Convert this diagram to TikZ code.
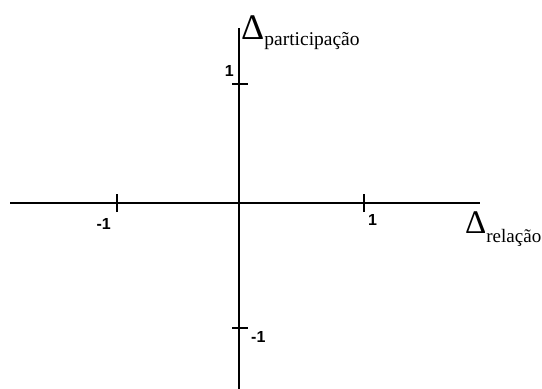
\documentclass[tikz,border=0pt]{standalone}
\usepackage{fontspec}
\setmainfont{Liberation Serif}
\newfontfamily\numfont{Liberation Sans}
\begin{document}
\begin{tikzpicture}[x=1pt,y=-1pt,
  axis/.style={line width=1.8pt},
  tick/.style={line width=1.8pt},
  num/.style={inner sep=0pt,font=\numfont\bfseries\fontsize{16}{16}\selectfont},
  lab/.style={inner sep=0pt}]
\useasboundingbox (0,0) rectangle (542,389);
\coordinate (xl) at (10,203);
\coordinate (xr) at (480,203);
\coordinate (yt) at (239,28);
\coordinate (yb) at (239,389);
\draw[axis] (xl) -- (xr);
\draw[axis] (yt) -- (yb);
% x ticks
\coordinate (xm1) at (117,203);
\coordinate (xp1) at (364,203);
\draw[tick] ([yshift=-9]xm1) -- ([yshift=9]xm1);
\draw[tick] ([yshift=-9]xp1) -- ([yshift=9]xp1);
% y ticks
\coordinate (yp1) at (239,84);
\coordinate (ym1) at (239,328);
\draw[tick] ([xshift=-7]yp1) -- ([xshift=9]yp1);
\draw[tick] ([xshift=-7]ym1) -- ([xshift=9]ym1);
% numbers
\node[num,anchor=base east] (nxm1) at (111,229) {-1};
\node[num,anchor=base west] (nxp1) at (368,225) {1};
\node[num,anchor=base east] (nyp1) at (234,76) {1};
\node[num,anchor=base west] (nym1) at (251,342) {-1};
% labels
\node[lab,anchor=base west] (lp) at (241,39)
  {\fontsize{36}{36}\selectfont Δ\raisebox{-6pt}{\fontsize{19.5}{19.5}\selectfont participação}};
\node[lab,anchor=base west] (lr) at (465,233)
  {\fontsize{33}{33}\selectfont Δ\raisebox{-9pt}{\fontsize{19}{19}\selectfont relação}};
\end{tikzpicture}
\end{document}
